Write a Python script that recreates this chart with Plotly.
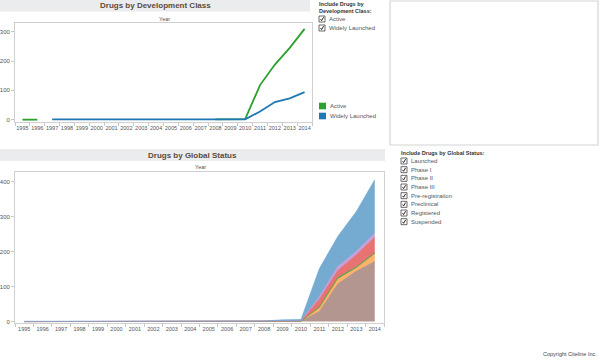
import plotly.graph_objects as go

W, H = 600, 361

years = [str(y) for y in range(1995, 2015)]

# Top chart: Drugs by Development Class
active = [0, 0] + [None] * 11 + [1, 2, 2, 118, 188, 245, 310]
widely_launched = [None, None] + [1] * 14 + [28, 60, 73, 94]

# Bottom chart: Drugs by Global Status (stacked)
preclinical = [0] * 15 + [1, 29, 108, 144, 172]
phase1 = [0] * 16 + [10, 14, 9, 22]
phase2 = [0] * 16 + [3, 4, 3, 3]
phase3 = [0] * 14 + [1, 1, 23, 21, 35, 45]
preregistration = [0] * 16 + [7, 11, 10, 11]
launched = [1] * 13 + [2, 4, 4, 80, 86, 114, 153]

dev_legend = ["Active", "Widely Launched"]
status_filters = ["Launched", "Phase I", "Phase II", "Phase III",
                  "Pre-registration", "Preclinical", "Registered", "Suspended"]


def px(x):
    return x / W


def py(y):
    return 1 - y / H


FONT = "Arial, Liberation Sans, sans-serif"
TXT = "#555555"
TITLE = "#5b4b3c"

fig = go.Figure()

fig.add_trace(go.Scatter(x=years, y=active, mode="lines", name="Active",
                         line=dict(color="#2ca02c", width=1.8), connectgaps=False,
                         xaxis="x", yaxis="y", showlegend=False))
fig.add_trace(go.Scatter(x=years, y=widely_launched, mode="lines", name="Widely Launched",
                         line=dict(color="#1f77b4", width=1.8), connectgaps=False,
                         xaxis="x", yaxis="y", showlegend=False))

stack = [
    ("Preclinical", preclinical, "rgba(166,132,124,0.85)", "#a6847c"),
    ("Phase I", phase1, "rgba(255,170,90,0.9)", "#ffaa5a"),
    ("Phase II", phase2, "rgba(44,160,44,0.9)", "#2ca02c"),
    ("Phase III", phase3, "rgba(228,100,100,0.9)", "#e46464"),
    ("Pre-registration", preregistration, "rgba(190,150,220,0.9)", "#be96dc"),
    ("Launched", launched, "rgba(110,166,206,0.95)", "#6ea6ce"),
]
for name, vals, fill, lc in stack:
    fig.add_trace(go.Scatter(x=years, y=vals, mode="lines", name=name,
                             stackgroup="s", fillcolor=fill,
                             line=dict(color=lc, width=0.6),
                             xaxis="x2", yaxis="y2", showlegend=False))

axis_common = dict(showline=True, linecolor="#d0d0d0", linewidth=1, mirror=True,
                   showgrid=False, zeroline=False, ticks="outside", tickcolor="#c8c8c8",
                   ticklen=3, automargin=False)
xfont = dict(family=FONT, size=5.5, color=TXT)
yfont = dict(family=FONT, size=6, color=TXT)

fig.update_layout(
    width=W, height=H, margin=dict(l=0, r=0, t=0, b=0, autoexpand=False),
    paper_bgcolor="white", plot_bgcolor="white",
    xaxis=dict(domain=[px(15), px(312)], anchor="y", type="category",
               categoryorder="array", categoryarray=years, range=[-0.5, 19.5],
               tickson="boundaries", tickangle=0, tickfont=xfont, **axis_common),
    yaxis=dict(domain=[py(122), py(23)], anchor="x", range=[-8, 330],
               tickvals=[0, 100, 200, 300], tickfont=yfont, **axis_common),
    xaxis2=dict(domain=[px(15), px(384)], anchor="y2", type="category",
                categoryorder="array", categoryarray=years, range=[-0.5, 19.5],
                tickson="boundaries", tickangle=0, tickfont=xfont, **axis_common),
    yaxis2=dict(domain=[py(323), py(172)], anchor="x2", range=[-4, 428],
                tickvals=[0, 100, 200, 300, 400], tickfont=yfont, **axis_common),
)

shapes = []
ann = []


def text(t, x, y, size, color, xanchor="center", bold=False):
    ann.append(dict(text="<b>%s</b>" % t if bold else t, x=px(x), y=py(y), xref="paper", yref="paper",
                    showarrow=False, xanchor=xanchor, yanchor="middle", borderpad=0,
                    font=dict(family=FONT, size=size, color=color)))


# title bars
shapes.append(dict(type="rect", xref="paper", yref="paper", x0=px(0), x1=px(310), y0=py(11.5), y1=py(0),
                   fillcolor="#ebecee", line=dict(width=0), layer="below"))
shapes.append(dict(type="rect", xref="paper", yref="paper", x0=px(0), x1=px(385), y0=py(161), y1=py(149),
                   fillcolor="#ebecee", line=dict(width=0), layer="below"))
text("Drugs by Development Class", 155, 6, 8, TITLE, bold=True)
text("Drugs by Global Status", 192, 155, 8, TITLE, bold=True)
text("Year", 164, 19, 5.5, TXT)
text("Year", 200, 167, 5.5, TXT)

# empty box at the right
shapes.append(dict(type="rect", xref="paper", yref="paper", x0=px(390), x1=px(598), y0=py(145), y1=py(1),
                   fillcolor="white", line=dict(color="#d4d4d4", width=1.2)))


def checkbox(x, y, label):
    shapes.append(dict(type="rect", xref="paper", yref="paper", x0=px(x), x1=px(x + 6),
                       y0=py(y + 3), y1=py(y - 3), fillcolor="white",
                       line=dict(color="#444444", width=0.8)))
    path = "M {},{} L {},{} L {},{}".format(px(x + 1.6), py(y + 0.2), px(x + 2.6), py(y + 1.6),
                                           px(x + 4.6), py(y - 1.8))
    shapes.append(dict(type="path", xref="paper", yref="paper", path=path,
                       line=dict(color="#222222", width=1)))
    text(label, x + 9, y, 6, TXT, xanchor="left")


# top filter
text("Include Drugs by", 318, 4.5, 5.5, "#333333", xanchor="left", bold=True)
text("Development Class:", 318, 11, 5.5, "#333333", xanchor="left", bold=True)
checkbox(319, 19, dev_legend[0])
checkbox(319, 28, dev_legend[1])

# color legend
for i, (lab, col) in enumerate(zip(dev_legend, ["#2ca02c", "#1f77b4"])):
    yc = 106 + i * 10
    shapes.append(dict(type="rect", xref="paper", yref="paper", x0=px(319), x1=px(326),
                       y0=py(yc + 3.3), y1=py(yc - 3.3), fillcolor=col, line=dict(width=0)))
    text(lab, 329, yc, 6, TXT, xanchor="left")

# bottom filter
text("Include Drugs by Global Status:", 400, 153.3, 5.5, "#333333", xanchor="left", bold=True)
for i, lab in enumerate(status_filters):
    checkbox(401, 161 + i * 8.67, lab)

text("Copyright Citeline Inc.", 598, 354, 5.5, "#444444", xanchor="right")

fig.update_layout(shapes=shapes, annotations=ann)
fig.write_html("out.html", config={"displayModeBar": False},
               post_script="document.body.style.margin='0';document.body.style.overflow='hidden';")
